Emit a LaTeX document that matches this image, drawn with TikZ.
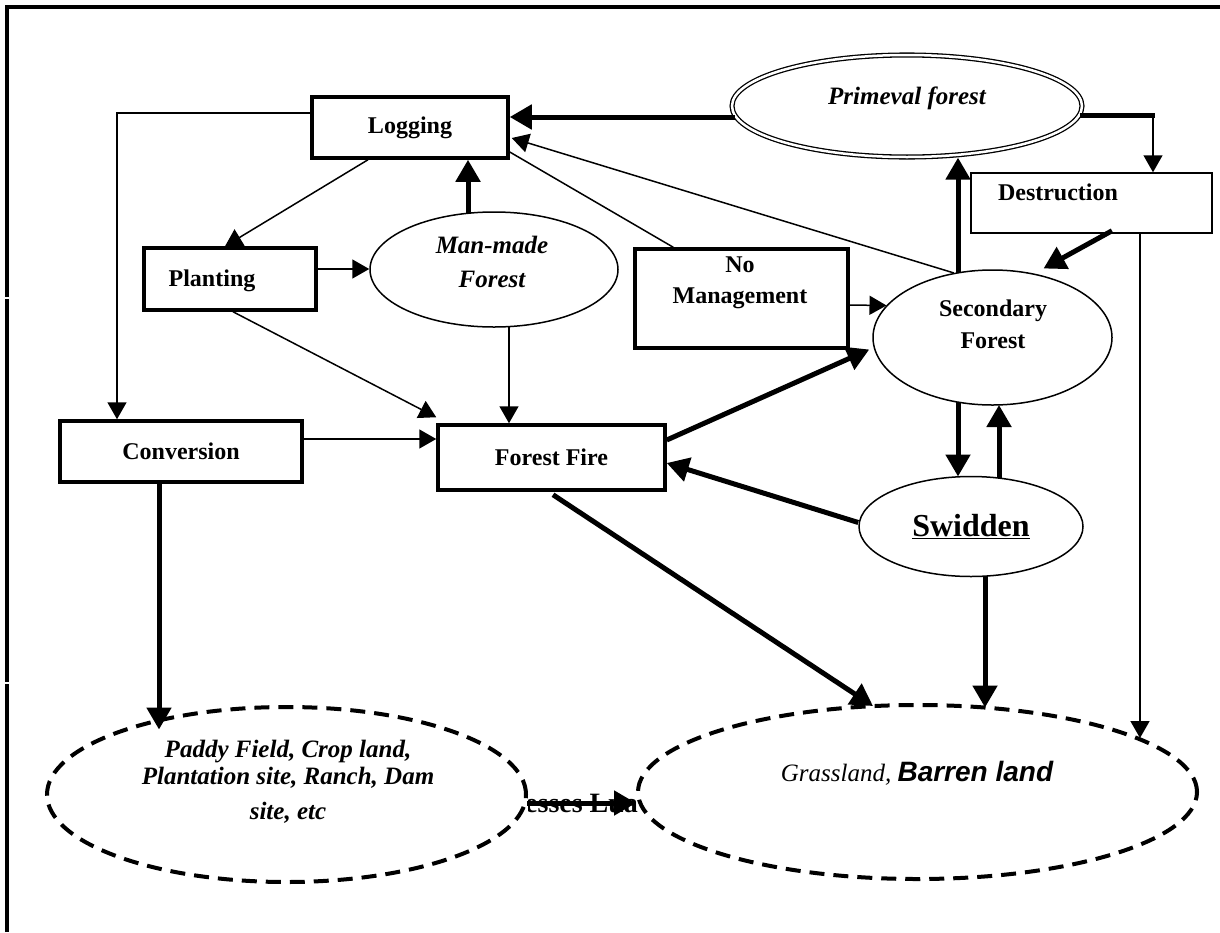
\documentclass[tikz,border=0pt]{standalone}
\usepackage{fontspec}
\setmainfont{Liberation Serif}
\newfontfamily\sansbi{Liberation Sans}
\usetikzlibrary{arrows.meta,calc,shapes.geometric}

\tikzset{
  thinln/.style={line width=1.5pt},
  thinarr/.style={line width=1.5pt, -{Triangle[length=17pt,width=19pt]}},
  thickln/.style={line width=5pt},
  thickarr/.style={line width=5pt, -{Triangle[length=22pt,width=24pt]}},
  boxthick/.style={draw, rectangle, line width=3.5pt, inner sep=0pt},
  boxthin/.style={draw, rectangle, line width=1.5pt, inner sep=0pt},
  oval/.style={draw, ellipse, line width=1.5pt, inner sep=0pt},
  dashoval/.style={draw, ellipse, line width=4pt, dash pattern=on 15pt off 9pt, inner sep=0pt},
  lbl/.style={font=\fontsize{24}{27}\selectfont\bfseries, align=center, inner sep=0pt},
  ilbl/.style={font=\fontsize{25}{27}\selectfont\bfseries\itshape, align=center, inner sep=0pt},
}

\begin{document}
\begin{tikzpicture}[x=1pt,y=-1pt]
\useasboundingbox (0,0) rectangle (1220,932);

% page frame (top and left edges), with two small breaks in the left edge
\draw[line width=4pt] (7,932) -- (7,7) -- (1220,7);
\draw[white, line width=1.2pt] (3,298) -- (11,298);
\draw[white, line width=1.2pt] (3,683) -- (11,683);

% ---- nodes ----
\node[boxthick, minimum width=196pt, minimum height=61pt, lbl] (log) at (410,127.5) {Logging};

\node[oval, double, double distance=2.5pt, line width=1.3pt,
      minimum width=350pt, minimum height=102pt] (prim) at (907,106) {};
\node[ilbl] (primtxt) at (907,98) {Primeval forest};

\node[boxthin, minimum width=241pt, minimum height=60pt] (dest) at (1091.5,203) {};
\node[lbl] (desttxt) at (1058,192) {Destruction};

\node[boxthick, minimum width=172pt, minimum height=62pt] (plant) at (230,279) {};
\node[lbl] (planttxt) at (212,281) {Planting};

\node[oval, minimum width=248pt, minimum height=115pt] (man) at (494,269.5) {};
\node[ilbl, font=\fontsize{25}{34}\selectfont\bfseries\itshape] (mantxt) at (492,262) {Man-made\\Forest};

\node[boxthick, minimum width=213pt, minimum height=99pt] (nom) at (741.5,298.5) {};
\node[lbl, font=\fontsize{24}{31}\selectfont\bfseries] (nomtxt) at (740,283) {No\\Management};

\node[oval, minimum width=239pt, minimum height=135pt] (sec) at (992.5,337.5) {};
\node[lbl, font=\fontsize{24}{32}\selectfont\bfseries] (sectxt) at (993,324) {Secondary\\Forest};

\node[boxthick, minimum width=242pt, minimum height=61pt, lbl] (conv) at (181,451.5) {Conversion};
\node[boxthick, minimum width=227pt, minimum height=65pt, lbl] (fire) at (551.5,457.5) {Forest Fire};

\node[oval, minimum width=224pt, minimum height=100pt,
      font=\fontsize{32}{34}\selectfont\bfseries] (swid) at (971,526.5) {\underline{Swidden}};

\node[dashoval, minimum width=479pt, minimum height=175pt] (crop) at (286.5,794.5) {};
\node[ilbl] (croptxt) at (288,782) {Paddy Field, Crop land,\\Plantation site, Ranch, Dam\\[8pt]site, etc};

\node[dashoval, minimum width=559pt, minimum height=174pt] (grass) at (917.5,792) {};
\node[inner sep=0pt] (grasstxt) at (917,773)
  {\fontsize{25}{27}\selectfont\itshape Grassland, {\sansbi\bfseries\itshape\fontsize{28}{30}\selectfont Barren land}};

% clipped label between the two land-use ovals
\begin{scope}
  \clip (528,780) rectangle (642,826);
  \node[font=\fontsize{28}{30}\selectfont\bfseries, inner sep=0pt, anchor=base west] (midtxt) at (525,812) {esses Lua};
\end{scope}

% ---- connectors ----
\coordinate (pd) at (1155,115);
\draw[thickarr] ($(prim.west)+(4,11)$) -- ($(log.east)+(0,-10.5)$);
\draw[thickln] ($(prim.east)+(-3,9)$) -- (pd);
\draw[thinarr] ($(pd)+(-2,0)$) -- ($(dest.north)+(61.5,0)$);

\draw[thinarr] ($(log.west)+(0,-14.5)$) -| ($(conv.north)+(-64,0)$);
\draw[thinarr] ($(log.south)+(-42,0)$) -- ($(plant.north)+(-5,0)$);
\draw[thickarr] ($(man.center)+(-26,-56.5)$) -- ($(log.south)+(58,0)$);
\draw[thinln] ($(log.east)+(0,24.5)$) -- ($(nom.north west)+(40,0)$);
\draw[thinarr] (sec.121) -- ($(log.east)+(2,10.5)$);
\draw[thickarr] ($(sec.center)+(-34.5,-64.5)$) -- ($(prim.south)+(51,0)$);

\draw[thickarr] ($(dest.south)+(20.5,-3)$) -- ($(sec.center)+(51,-69)$);
\draw[thinarr] ($(dest.south)+(48.5,0)$) -- ($(grass.center)+(222.5,-54)$);

\draw[thinarr] ($(plant.east)+(0,-10)$) -- ($(man.west)+(0,-0.5)$);
\draw[thinarr] ($(plant.south)+(3,0)$) -- ($(fire.north west)+(0,-6)$);
\draw[thinarr] ($(man.south)+(15,-1)$) -- ($(fire.north)+(-42.5,0)$);
\draw[thinarr] ($(nom.east)+(-2,6.5)$) -- ($(sec.center)+(-106,-32)$);
\draw[thinarr] ($(conv.east)+(0,-12.5)$) -- ($(fire.west)+(0,-18.5)$);

\draw[thickarr] ($(fire.east)+(0,-17.5)$) -- ($(sec.west)+(-3,12)$);
\draw[thickarr] ($(swid.west)+(0,-4)$) -- ($(fire.east)+(0,5.5)$);
\draw[thickarr] ($(sec.center)+(-34.5,64.5)$) -- ($(swid.center)+(-13,-50)$);
\draw[thickarr] ($(swid.center)+(28,-48.5)$) -- ($(sec.center)+(6.5,67.5)$);

\draw[thickarr] ($(swid.center)+(14,49.8)$) -- ($(grass.center)+(67.5,-84.5)$);
\draw[thickarr] ($(fire.south)+(1.5,3)$) -- ($(grass.center)+(-44.5,-86)$);
\draw[thickarr] ($(conv.south)+(-22,0)$) -- ($(crop.center)+(-127.5,-65)$);
\draw[thickarr] ($(crop.east)+(-1,8.5)$) -- ($(grass.west)+(0,11)$);
\end{tikzpicture}
\end{document}
